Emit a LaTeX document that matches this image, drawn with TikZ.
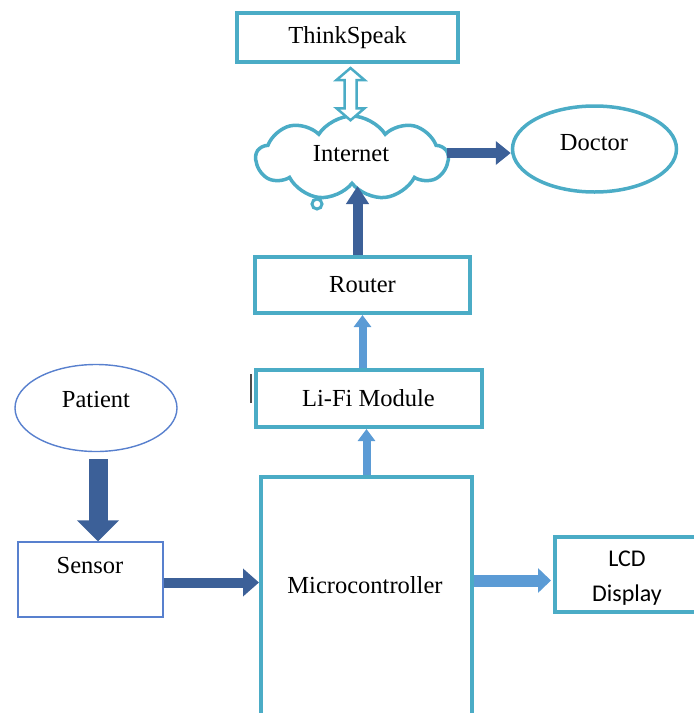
\documentclass[tikz,border=0pt]{standalone}
\usepackage{fontspec}
\setmainfont{Liberation Serif}
\newfontfamily\calfont{Carlito}
\usetikzlibrary{shapes.geometric,shapes.symbols,arrows.meta,calc}
\definecolor{boxcyan}{RGB}{75,172,198}
\definecolor{arrowdark}{RGB}{60,96,152}
\definecolor{arrowlight}{RGB}{91,155,213}
\definecolor{thinblue}{RGB}{88,128,206}
\begin{document}
\begin{tikzpicture}[x=1pt,y=-1pt,
  txt/.style={font=\fontsize{24.5}{29}\selectfont, inner sep=0pt},
  cbox/.style={draw=boxcyan, line width=4pt, fill=white, inner sep=0pt, txt},
  tbox/.style={draw=thinblue, line width=1.4pt, fill=white, inner sep=0pt},
  fat/.style n args={4}{draw=#1, line width=#2, -{Triangle[length=#3,width=#4]}},
]
\useasboundingbox (0,0) rectangle (694,713);

% blocks
\node[cbox, minimum width=221pt, minimum height=49pt] (ts) at (347.5,37.5) {ThinkSpeak};
\node[cloud, cloud puffs=9, cloud puff arc=115, aspect=2.3, draw=boxcyan, line width=3.5pt,
      fill=white, minimum width=192pt, minimum height=84pt, inner sep=0pt] (net) at (352,158) {};
\node[txt] (nettxt) at (351,154) {Internet};
\node[circle, draw=boxcyan, line width=3pt, fill=white, minimum size=10pt, inner sep=0pt] (bub) at (317,204) {};
\node[ellipse, draw=boxcyan, line width=3.5pt, minimum width=164pt, minimum height=86pt, inner sep=0pt] (doc) at (594.5,149) {};
\node[txt] (doctxt) at (594,143) {Doctor};
\node[cbox, minimum width=215pt, minimum height=56pt] (rt) at (362.5,285) {Router};
\node[cbox, minimum width=226pt, minimum height=57pt] (lf) at (368.5,398.5) {Li-Fi Module};
\node[cbox, minimum width=211pt, minimum height=253pt] (mc) at (366.5,603.5) {};
\node[txt] (mctxt) at (365,585) {Microcontroller};
\node[cbox, minimum width=155pt, minimum height=75pt] (lcd) at (632.5,574.5) {};
\node[txt, font=\calfont\fontsize{24}{35}\selectfont, align=center] (lcdtxt) at (627,578) {LCD\\Display};
\node[ellipse, tbox, minimum width=162pt, minimum height=87pt] (pt) at (96,408) {};
\node[txt] (pttxt) at (96,400) {Patient};
\node[rectangle, tbox, minimum width=145pt, minimum height=75pt] (sn) at (90.5,579.5) {};
\node[txt] (sntxt) at (90,566) {Sensor};

% small mark beside the Li-Fi block
\draw[black!70, line width=2.5pt] ($(lf.north west)+(-2.5,6)$) -- ($(lf.north west)+(-2.5,35)$);

% two-way link ThinkSpeak <-> Internet (hollow block arrow)
\coordinate (tsA) at ($(ts.south)+(3,4)$);
\coordinate (tsB) at ($(tsA |- net.north)+(0,6)$);
\draw[boxcyan, line width=2.5pt, fill=white, line join=miter]
  (tsA) -- ($(tsA)+(14,12)$) -- ($(tsA)+(6,12)$) -- ($(tsB)+(6,-12)$) -- ($(tsB)+(14,-12)$)
  -- (tsB) -- ($(tsB)+(-14,-12)$) -- ($(tsB)+(-6,-12)$) -- ($(tsA)+(-6,12)$)
  -- ($(tsA)+(-14,12)$) -- cycle;

% data flow arrows
\coordinate (ndA) at ($(net.east)+(-3,-5)$);
\draw[fat={arrowdark}{10pt}{15pt}{23pt}] (ndA) -- (ndA -| doc.west);
\coordinate (rnA) at ($(rt.north)+(-5,0)$);
\draw[fat={arrowdark}{10pt}{18pt}{22pt}] (rnA) -- (rnA |- net.south);
\draw[fat={arrowlight}{8pt}{12pt}{17pt}] (rt.south |- lf.north) -- (rt.south);
\draw[fat={arrowlight}{8pt}{12pt}{17pt}] (mc.north) -- (mc.north |- lf.south);
\coordinate (psA) at ($(pt.south)+(2,7)$);
\draw[fat={arrowdark}{19pt}{21pt}{41pt}] (psA) -- (psA |- sn.north);
\coordinate (smA) at ($(sn.east)+(0,3)$);
\draw[fat={arrowdark}{10pt}{16pt}{27pt}] (smA) -- (smA -| mc.west);
\coordinate (mlA) at ($(lcd.west)+(-2,6)$);
\draw[fat={arrowlight}{12pt}{13pt}{24pt}] (mlA -| mc.east) -- (mlA);
\end{tikzpicture}
\end{document}
